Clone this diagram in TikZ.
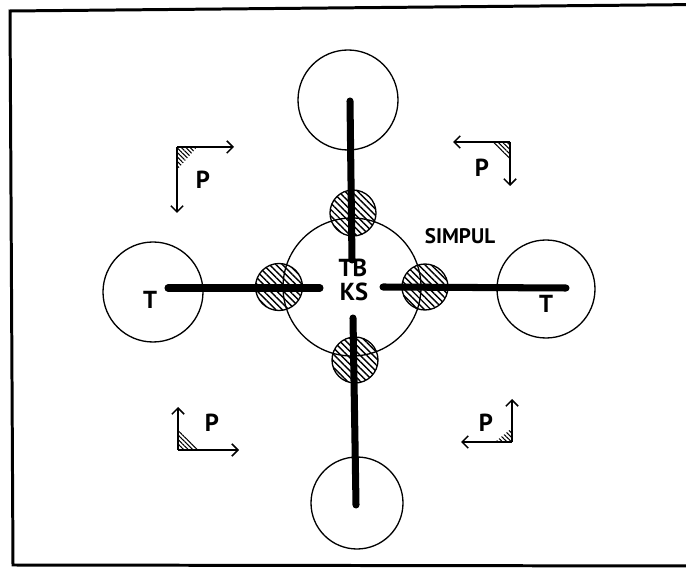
\documentclass[tikz,border=0pt]{standalone}
\usepackage{fontspec}
\setsansfont{PT Sans}
\usetikzlibrary{arrows.meta,patterns.meta}

\tikzset{
  ring/.style={line width=0.75pt},
  hatchring/.style={line width=0.75pt, pattern={Lines[angle=-45,distance=2.6pt,line width=0.8pt]}},
  corner/.style={line width=0.6pt, pattern={Lines[angle=-45,distance=1.8pt,line width=0.6pt]}},
  bar/.style={line width=4pt, line cap=round},
  force/.style={line width=0.9pt, -{Straight Barb[length=3.5pt,width=7pt]}},
  lbl/.style={font=\sffamily\bfseries\fontsize{14}{14}\selectfont, inner sep=0pt}
}

\begin{document}
\begin{tikzpicture}[x=0.02cm, y=-0.02cm]
  \useasboundingbox (0,0) rectangle (686,570);
  \clip (0,0) rectangle (686,570);
  % frame
  \draw[line width=1.7pt] (700,4.5) -- (10,11) -- (13,565) -- (700,566);

  % pile circles
  \draw[ring] (348,100) circle (50);
  \draw[ring] (153,292) circle (50);
  \draw[ring] (546,289) circle (49);
  \draw[ring] (357,503) circle (46);
  \draw[ring] (352,287) circle (69);

  % knots
  \draw[hatchring] (353,213) circle (23);
  \draw[hatchring] (279,287) circle (23.5);
  \draw[hatchring] (425,287) circle (23);
  \draw[hatchring] (355,360) circle (23);

  % bars
  \coordinate (topout) at (350,101);  \coordinate (topin) at (352,260);
  \coordinate (botin) at (353,318);   \coordinate (botout) at (356,505);
  \coordinate (lefto) at (168,288);   \coordinate (lefti) at (320,288);
  \coordinate (righti) at (383,287);  \coordinate (righto) at (566,288);
  \draw[bar] (topout) -- (topin);
  \draw[bar] (botin) -- (botout);
  \draw[bar] (lefto) -- (lefti);
  \draw[bar] (righti) -- (righto);

  \node[lbl] (tb) at (353,268) {TB};
  \node[lbl] (ks) at (354,292) {KS};
  \node[lbl] (tleft) at (150,300) {T};
  \node[lbl] (tright) at (546,304) {T};
  \node[lbl, font=\sffamily\bfseries\fontsize{12}{12}\selectfont] (simpul) at (460,236) {SIMPUL};

  % loads, top left
  \coordinate (c1) at (177,147);
  \fill[corner] (c1) -- (197,147) -- (177,170) -- cycle;
  \draw[force] (c1) -- (234,147);
  \draw[force] (c1) -- (177,213);
  \node[lbl] (p1) at (203,180) {P};
  % top right
  \coordinate (c2) at (510,142);
  \fill[corner] (c2) -- (490,142) -- (510,162) -- cycle;
  \draw[force] (c2) -- (453,142);
  \draw[force] (c2) -- (510,186);
  \node[lbl] (p2) at (482,168) {P};
  % bottom left
  \coordinate (c3) at (178,450);
  \fill[corner] (c3) -- (200,450) -- (178,430) -- cycle;
  \draw[force] (c3) -- (178,407);
  \draw[force] (c3) -- (239,450);
  \node[lbl] (p3) at (212,423) {P};
  % bottom right
  \coordinate (c4) at (512,442);
  \fill[corner] (c4) -- (495,442) -- (512,428) -- cycle;
  \draw[force] (c4) -- (512,399);
  \draw[force] (c4) -- (461,442);
  \node[lbl] (p4) at (486,423) {P};
\end{tikzpicture}
\end{document}
